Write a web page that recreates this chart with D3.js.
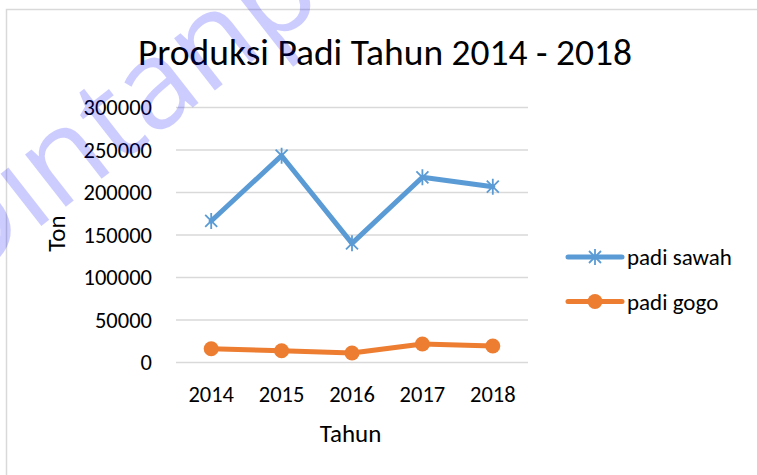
<!DOCTYPE html>
<html lang="id">
<head>
<meta charset="UTF-8">
<title>Produksi Padi</title>
<script src="https://d3js.org/d3.v7.min.js"></script>
<style>
  html, body { margin: 0; padding: 0; background: #fff; }
  svg { display: block; font-family: Carlito, Lato, Calibri, sans-serif; }
</style>
</head>
<body>
<div id="chart"></div>
<script>
// data
const years = ["2014", "2015", "2016", "2017", "2018"];
const padiSawah = [166500, 243300, 140200, 217900, 206800];
const padiGogo = [16200, 13900, 11200, 21800, 19400];
const yTicks = [0, 50000, 100000, 150000, 200000, 250000, 300000];

const series = [
  { name: "padi sawah", values: padiSawah, color: "#5b9bd5", marker: "star" },
  { name: "padi gogo", values: padiGogo, color: "#ed7d31", marker: "circle" }
];

const W = 757, H = 475;
const plot = { left: 176, right: 528, top: 107.5, bottom: 362.5 };
const font = "Carlito, Lato, Calibri, sans-serif";

const svg = d3.select("#chart").append("svg")
  .attr("width", W).attr("height", H);

// chart frame
svg.append("rect")
  .attr("x", 6.5).attr("y", 9.5)
  .attr("width", W + 20).attr("height", H + 20)
  .attr("fill", "#fff").attr("stroke", "#d9d9d9").attr("stroke-width", 1.5);

const x = d3.scaleBand().domain(years).range([plot.left, plot.right]);
const y = d3.scaleLinear().domain([0, 300000]).range([plot.bottom, plot.top]);

// gridlines
svg.append("g").selectAll("line").data(yTicks).join("line")
  .attr("x1", plot.left).attr("x2", plot.right)
  .attr("y1", d => y(d)).attr("y2", d => y(d))
  .attr("stroke", "#d9d9d9").attr("stroke-width", 1.5);

// y axis labels
const yAxis = svg.append("g")
  .attr("transform", `translate(${plot.left - 24},0)`)
  .call(d3.axisLeft(y).tickValues(yTicks).tickSize(0).tickPadding(0).tickFormat(d3.format("d")));
yAxis.select(".domain").remove();
yAxis.selectAll("text")
  .attr("font-family", font).attr("font-size", 22.5).attr("fill", "#000");

// x axis labels
const xAxis = svg.append("g")
  .attr("transform", `translate(0,${plot.bottom + 24})`)
  .call(d3.axisBottom(x).tickSize(0).tickPadding(0));
xAxis.select(".domain").remove();
xAxis.selectAll("text")
  .attr("font-family", font).attr("font-size", 22.5).attr("fill", "#000");

// titles
svg.append("text")
  .attr("x", 385).attr("y", 65)
  .attr("text-anchor", "middle").attr("font-size", 37.5).attr("fill", "#000")
  .text("Produksi Padi Tahun 2014 - 2018");

svg.append("text")
  .attr("x", 350.5).attr("y", 441.5)
  .attr("text-anchor", "middle").attr("font-size", 25).attr("fill", "#000")
  .text("Tahun");

svg.append("text")
  .attr("transform", `translate(65,233.5) rotate(-90)`)
  .attr("text-anchor", "middle").attr("font-size", 25).attr("fill", "#000")
  .text("Ton");

// markers
function drawMarker(g, type, color) {
  if (type === "circle") {
    g.append("circle").attr("r", 7.5).attr("fill", color);
  } else {
    g.append("path")
      .attr("d", "M-6,-6L6,6M-6,6L6,-6M0,-8L0,8")
      .attr("stroke", color).attr("stroke-width", 1.8).attr("fill", "none");
  }
}

const line = d3.line()
  .x((d, i) => x(years[i]) + x.bandwidth() / 2)
  .y(d => y(d));

series.forEach(s => {
  svg.append("path")
    .attr("d", line(s.values))
    .attr("fill", "none").attr("stroke", s.color)
    .attr("stroke-width", 5).attr("stroke-linejoin", "round").attr("stroke-linecap", "round");
  s.values.forEach((v, i) => {
    const g = svg.append("g")
      .attr("transform", `translate(${x(years[i]) + x.bandwidth() / 2},${y(v)})`);
    drawMarker(g, s.marker, s.color);
  });
});

// legend
const legend = svg.append("g").attr("transform", "translate(568,257)");
series.forEach((s, i) => {
  const g = legend.append("g").attr("transform", `translate(0,${i * 44.5})`);
  g.append("line").attr("x1", 0).attr("x2", 54)
    .attr("stroke", s.color).attr("stroke-width", 5).attr("stroke-linecap", "round");
  const m = g.append("g").attr("transform", "translate(27,0)");
  drawMarker(m, s.marker, s.color);
  g.append("text").attr("x", 59).attr("y", 8)
    .attr("font-size", 23).attr("fill", "#000").text(s.name);
});

// watermark
svg.append("text")
  .attr("transform", "translate(-38,288) rotate(-38)")
  .attr("font-family", "'Open Sans', sans-serif")
  .attr("font-size", 124)
  .attr("fill", "#0000ff").attr("fill-opacity", 0.2)
  .text("Dintanpangan");
</script>
</body>
</html>
